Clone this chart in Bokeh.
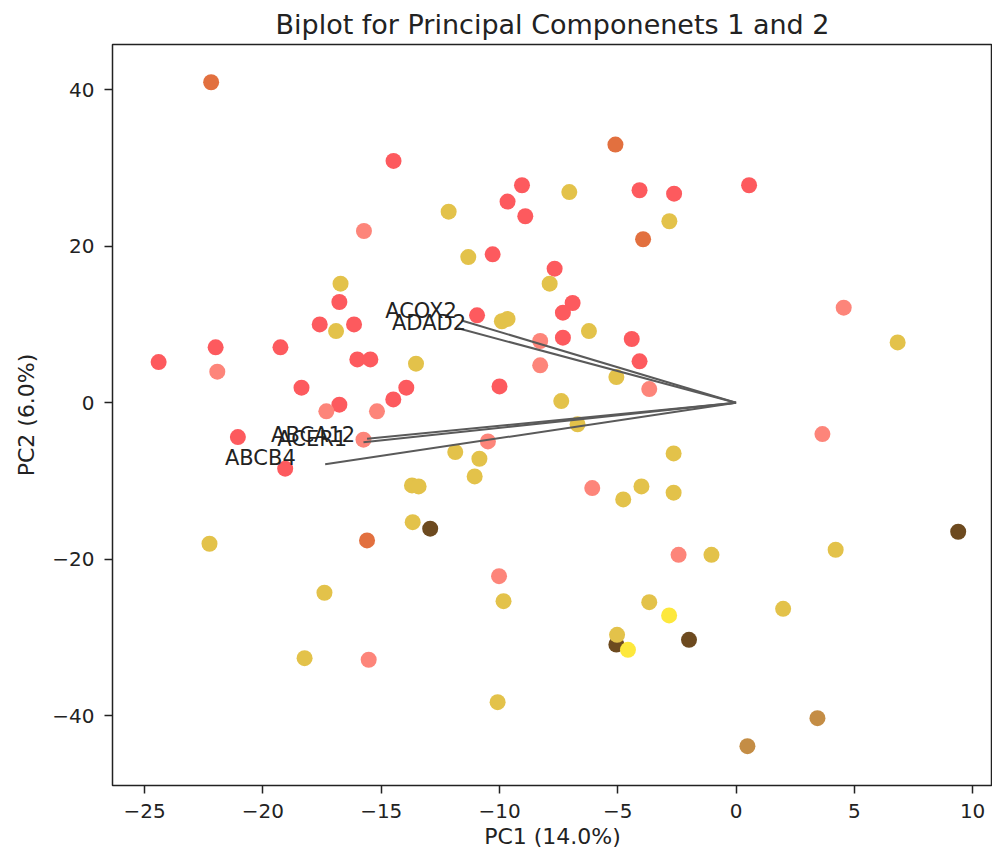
from bokeh.plotting import figure
from bokeh.models import Range1d, FixedTicker, ColumnDataSource, BoxAnnotation
from bokeh.embed import file_html
from bokeh.resources import INLINE
from bokeh.core.properties import value

# ---- sample scores (PC1, PC2) and group colour code ----
pc1 = [-22.19, -14.48, -5.10, 0.55, -9.05, -7.05, -4.08, -2.62, -9.66, -8.91,
       -2.82, -3.93, -12.15, -15.73, -11.32, -10.29, -7.67, -7.88, -16.72, -6.91,
       -16.77, -17.60, -16.91, -16.15, -22.00, -19.26, -24.41, -21.93, -16.01, -15.46,
       -13.53, -18.37, -13.94, -14.49, -16.77, -17.32, -15.18, -10.95, -9.90, -9.66,
       -10.00, -21.06, -15.75, -19.06, -11.87, -10.85, -10.49, -11.05, -13.70, -13.42,
       -13.67, -12.93, -15.60, -22.26, -7.32, -6.22, -7.32, -4.41, -8.28, -4.08,
       -8.28, -5.06, -3.67, -7.39, -6.70, 4.55, 6.83, 3.65, -2.64, -6.08,
       -4.00, -4.77, -2.64, 9.39, 4.21, -2.43, -1.04, -10.02, -17.40, -9.83,
       -18.24, -15.53, -10.08, -3.67, -2.83, 1.99, -5.06, -5.03, -4.57, -1.99,
       3.44, 0.48]
pc2 = [40.93, 30.88, 32.97, 27.77, 27.77, 26.90, 27.13, 26.70, 25.69, 23.81,
       23.17, 20.87, 24.40, 21.93, 18.60, 18.95, 17.12, 15.20, 15.20, 12.73,
       12.86, 10.00, 9.15, 10.00, 7.07, 7.07, 5.19, 3.96, 5.53, 5.53,
       4.98, 1.92, 1.92, 0.42, -0.26, -1.11, -1.11, 11.16, 10.40, 10.70,
       2.08, -4.39, -4.73, -8.43, -6.31, -7.16, -4.95, -9.42, -10.57, -10.70,
       -15.26, -16.10, -17.60, -18.02, 11.50, 9.15, 8.30, 8.13, 7.88, 5.28,
       4.77, 3.27, 1.74, 0.20, -2.77, 12.14, 7.70, -4.01, -6.48, -10.91,
       -10.70, -12.36, -11.50, -16.49, -18.79, -19.43, -19.43, -22.16, -24.28, -25.35,
       -32.64, -32.84, -38.26, -25.48, -27.18, -26.33, -30.89, -29.65, -31.57, -30.29,
       -40.30, -43.88]
group = ["O", "R", "O", "R", "R", "Y", "R", "R", "R", "R",
         "Y", "O", "Y", "S", "Y", "R", "R", "Y", "Y", "R",
         "R", "R", "Y", "R", "R", "R", "R", "S", "R", "R",
         "Y", "R", "R", "R", "R", "S", "S", "R", "Y", "Y",
         "R", "R", "S", "R", "Y", "Y", "S", "Y", "Y", "Y",
         "Y", "D", "O", "Y", "R", "Y", "R", "R", "S", "R",
         "S", "Y", "S", "Y", "Y", "S", "Y", "S", "Y", "S",
         "Y", "Y", "Y", "D", "Y", "S", "Y", "S", "Y", "Y",
         "Y", "S", "Y", "Y", "B", "Y", "D", "Y", "B", "D",
         "T", "T"]
group_colors = {"R": "#FD5A5E", "S": "#FD857A", "O": "#E2703F", "Y": "#E3C24A",
                "B": "#FDE83C", "D": "#6D4A1F", "T": "#C48D45"}

# ---- loadings (arrow tips) and label positions ----
features = ["ACOX2", "ADAD2", "ABCA12", "ACER1", "ABCB4"]
load_x = [-11.60, -11.75, -15.60, -15.75, -17.37]
load_y = [10.50, 9.50, -4.60, -5.05, -7.88]
label_x = [-13.32, -12.98, -17.88, -17.92, -20.11]
label_y = [11.73, 10.20, -4.18, -4.69, -7.08]

x_ticks = [-25, -20, -15, -10, -5, 0, 5, 10]
y_ticks = [-40, -20, 0, 20, 40]

FONT = "DejaVu Sans"
TXT = "#222222"

p = figure(width=992, height=856, output_backend="svg", toolbar_location=None,
           x_range=Range1d(-26.36, 10.84), y_range=Range1d(-48.9, 45.75),
           min_border_left=112, min_border_right=0, min_border_top=44,
           min_border_bottom=71, title="Biplot for Principal Componenets 1 and 2")

p.title.text_font = FONT
p.title.text_font_size = "27px"
p.title.text_font_style = "normal"
p.title.text_color = TXT
p.title.align = "center"
p.title.standoff = 10

p.grid.visible = False
p.outline_line_color = TXT
p.outline_line_width = 1.5
p.background_fill_color = "white"
p.border_fill_color = "white"

for ax, ticks in ((p.xaxis[0], x_ticks), (p.yaxis[0], y_ticks)):
    ax.ticker = FixedTicker(ticks=ticks)
    ax.major_label_overrides = {t: (str(t).replace("-", "\u2212")) for t in ticks}
    ax.major_label_text_font = FONT
    ax.major_label_text_font_size = "20px"
    ax.major_label_text_color = TXT
    ax.axis_label_text_font = FONT
    ax.axis_label_text_font_size = "22px"
    ax.axis_label_text_font_style = "normal"
    ax.axis_label_text_color = TXT
    ax.axis_line_color = None
    ax.major_tick_in = 0
    ax.major_tick_out = 8
    ax.major_tick_line_color = TXT
    ax.major_tick_line_width = 1.5
    ax.minor_tick_line_color = None
    ax.major_label_standoff = 10

p.xaxis.axis_label = "PC1 (14.0%)"
p.yaxis.axis_label = "PC2 (6.0%)"
p.xaxis.axis_label_standoff = 3
p.yaxis.axis_label_standoff = 10

src = ColumnDataSource(dict(x=pc1, y=pc2, c=[group_colors[g] for g in group]))
p.scatter("x", "y", source=src, size=16, fill_color="c", line_color="c", line_width=0)

p.segment(x0=[0.0] * len(load_x), y0=[0.0] * len(load_y), x1=load_x, y1=load_y,
          line_color="#5a5a5a", line_width=2)

p.text(x=label_x, y=label_y, text=features, text_font=value(FONT),
       text_font_size="21px", text_color=TXT, text_align="center",
       text_baseline="middle")

# dark strip at the far left edge of the reference picture
try:
    bar = BoxAnnotation(left=-31.1, right=-30.76, top=31.99, bottom=-20.41,
                        fill_color="black", fill_alpha=1.0, line_color=None)
    p.add_layout(bar)
except Exception:
    pass

open("out.html", "w").write(file_html(p, INLINE))
